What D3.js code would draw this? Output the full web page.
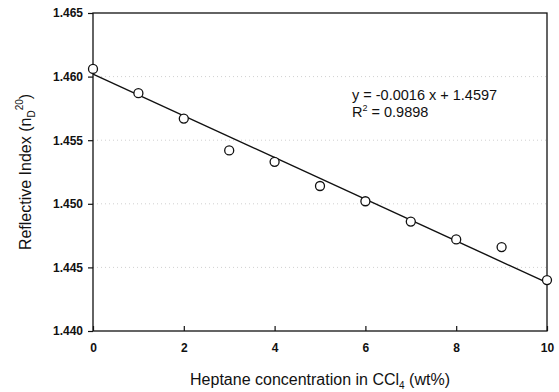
<!DOCTYPE html>
<head>
  <meta charset="utf-8">
  <script src="https://d3js.org/d3.v7.min.js"></script>
  <style>
    body { margin: 0; background: #fff; }
    text { font-family: "Liberation Sans", Arial, sans-serif; }
  </style>
</head>
<body>
  <div id="chart"></div>
  <script>
    // values
    var conc = [0, 1, 2, 3, 4, 5, 6, 7, 8, 9, 10];
    var refIndex = [1.4606, 1.4587, 1.4567, 1.4542, 1.4533, 1.4514, 1.4502, 1.4486, 1.4472, 1.4466, 1.4440];
    var trendX = [0, 10];
    var trendY = [1.4602, 1.4438];
    var xTicks = [0, 2, 4, 6, 8, 10];
    var yTicks = [1.440, 1.445, 1.450, 1.455, 1.460, 1.465];
    var gridVals = [1.445, 1.450, 1.455, 1.460];
    var eqLine = "y = -0.0016 x + 1.4597";
    var r2Value = " = 0.9898";

    (function() {
      var width = 559,
          height = 392;
      var margin = {top: 13, right: 12, bottom: 61, left: 93};
      var w = width - margin.left - margin.right,
          h = height - margin.top - margin.bottom;

      var svg = d3.select("#chart")
        .append("svg")
        .attr("width", width)
        .attr("height", height)
        .append("g")
        .attr("transform", "translate(" + margin.left + "," + margin.top + ")");

      var x = d3.scaleLinear().domain([0, 10]).range([0, w]);
      var y = d3.scaleLinear().domain([1.440, 1.465]).range([h, 0]);

      // faint dotted gridlines
      svg.selectAll(".grid")
        .data(gridVals)
        .enter().append("line")
        .attr("class", "grid")
        .attr("x1", 0).attr("x2", w)
        .attr("y1", function(d) { return y(d); })
        .attr("y2", function(d) { return y(d); })
        .attr("stroke", "#d0d0d0")
        .attr("stroke-width", 1)
        .attr("stroke-dasharray", "1,3");

      // frame
      svg.append("rect")
        .attr("width", w).attr("height", h)
        .attr("fill", "none")
        .attr("stroke", "#111")
        .attr("stroke-width", 1.3);

      var yAxis = svg.append("g")
        .call(d3.axisLeft(y).tickValues(yTicks).tickSize(5).tickPadding(5)
          .tickFormat(d3.format(".3f")));
      var xAxis = svg.append("g")
        .attr("transform", "translate(0," + h + ")")
        .call(d3.axisBottom(x).tickValues(xTicks).tickSize(-5).tickPadding(12)
          .tickFormat(d3.format("d")));

      [yAxis, xAxis].forEach(function(a) {
        a.select(".domain").remove();
        a.selectAll("line").attr("stroke", "#111").attr("stroke-width", 1.2);
        a.selectAll("text")
          .attr("fill", "#111")
          .style("font-size", "12px")
          .style("font-weight", "bold");
      });

      // trend line
      var line = d3.line()
        .x(function(d) { return x(d[0]); })
        .y(function(d) { return y(d[1]); });
      svg.append("path")
        .datum(d3.zip(trendX, trendY))
        .attr("d", line)
        .attr("fill", "none")
        .attr("stroke", "#111")
        .attr("stroke-width", 1.4);

      // points
      svg.selectAll(".pt")
        .data(d3.zip(conc, refIndex))
        .enter().append("circle")
        .attr("class", "pt")
        .attr("cx", function(d) { return x(d[0]); })
        .attr("cy", function(d) { return y(d[1]); })
        .attr("r", 4.5)
        .attr("fill", "#fff")
        .attr("stroke", "#111")
        .attr("stroke-width", 1.3);

      // equation
      var eq = svg.append("g").attr("transform", "translate(" + (352 - margin.left) + "," + (100 - margin.top) + ")");
      eq.append("text")
        .attr("fill", "#111")
        .style("font-size", "14.5px")
        .text(eqLine);
      var r2 = eq.append("text")
        .attr("y", 17)
        .attr("fill", "#111")
        .style("font-size", "14.5px");
      r2.append("tspan").text("R");
      r2.append("tspan").attr("dy", -6).style("font-size", "9px").text("2");
      r2.append("tspan").attr("dy", 6).text(r2Value);

      // axis titles
      var xt = svg.append("text")
        .attr("x", w / 2)
        .attr("y", 385 - margin.top)
        .attr("text-anchor", "middle")
        .attr("fill", "#111")
        .style("font-size", "16px");
      xt.append("tspan").text("Heptane concentration in CCl");
      xt.append("tspan").attr("dy", 4).style("font-size", "10px").text("4");
      xt.append("tspan").attr("dy", -4).text(" (wt%)");

      var yt = svg.append("text")
        .attr("transform", "translate(" + (31 - margin.left) + "," + (h / 2) + ") rotate(-90)")
        .attr("text-anchor", "middle")
        .attr("fill", "#111")
        .style("font-size", "16px");
      yt.append("tspan").text("Reflective Index (n");
      yt.append("tspan").attr("dy", 4).style("font-size", "10px").text("D");
      yt.append("tspan").attr("dy", -12).style("font-size", "10px").text("20");
      yt.append("tspan").attr("dy", 8).text(")");
    })();
  </script>
</body>
